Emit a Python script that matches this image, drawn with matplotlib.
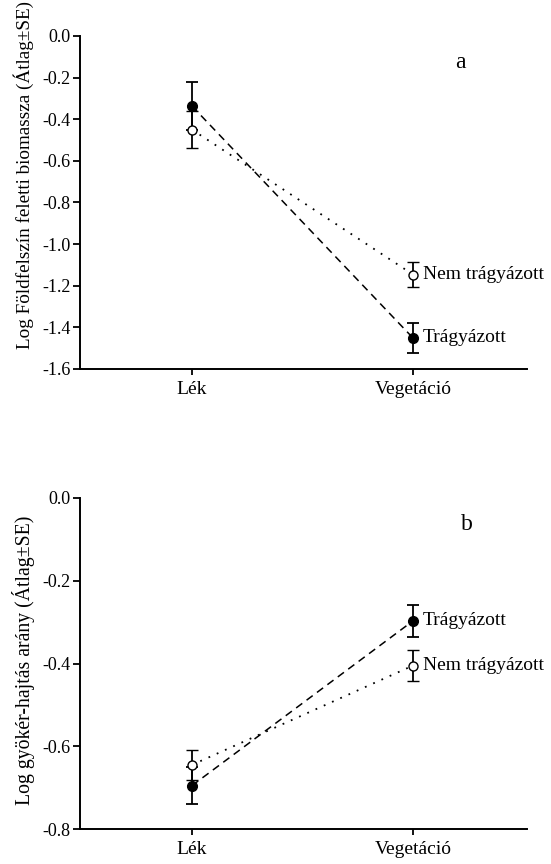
import matplotlib
matplotlib.use("Agg")
import matplotlib.pyplot as plt

plt.rcParams['font.family'] = ['Liberation Serif', 'DejaVu Serif']

sites = ['Lék', 'Vegetáció']
groups = ['Trágyázott', 'Nem trágyázott']

# shoot biomass (log), mean and SE
biomass_fert = [-0.337, -1.451]
biomass_fert_se = [0.115, 0.074]
biomass_nofert = [-0.450, -1.146]
biomass_nofert_se = [0.090, 0.062]

# root:shoot ratio (log), mean and SE
ratio_fert = [-0.695, -0.297]
ratio_fert_se = [0.044, 0.039]
ratio_nofert = [-0.645, -0.405]
ratio_nofert_se = [0.037, 0.038]

W, H = 551, 864
fig = plt.figure(figsize=(W / 100, H / 100), dpi=100)
ax1 = fig.add_axes([80 / W, 1 - 369 / H, 447 / W, 333 / H])
ax2 = fig.add_axes([80 / W, 1 - 829 / H, 447 / W, 331 / H])

x = [0, 1]


def draw_panel(ax, fert, fert_se, nofert, nofert_se, letter, letter_x,
               ylim, yticks):
    ax.errorbar(x, fert, yerr=fert_se, color='black', ls=(0, (5, 3.5)),
                lw=1.1, marker='o', ms=7, mfc='black', mec='black',
                capsize=4.5, elinewidth=1.3, capthick=1.3, zorder=3)
    ax.errorbar(x, nofert, yerr=nofert_se, color='black', ls=(0, (1, 4)),
                lw=1.3, marker='o', ms=6.5, mfc='white', mec='black',
                mew=1.0, capsize=4.5, elinewidth=1.3, capthick=1.3, zorder=4)
    ax.annotate(groups[0], (x[1], fert[1]), xytext=(7, 0),
                textcoords='offset points', va='center', fontsize=14)
    ax.annotate(groups[1], (x[1], nofert[1]), xytext=(7, 0),
                textcoords='offset points', va='center', fontsize=14)
    ax.set_xlim(-0.507, 1.516)
    ax.set_ylim(*ylim)
    ax.set_yticks(yticks)
    ax.set_yticklabels([f'{t:.1f}' for t in yticks])
    ax.set_xticks(x)
    ax.set_xticklabels(sites)
    ax.spines['top'].set_visible(False)
    ax.spines['right'].set_visible(False)
    ax.spines['left'].set_linewidth(1.4)
    ax.spines['bottom'].set_linewidth(1.4)
    ax.tick_params(axis='y', direction='out', length=5, width=1.3,
                   labelsize=13, pad=2)
    ax.tick_params(axis='x', direction='out', length=4, width=1.3,
                   labelsize=14, pad=5)
    ax.text(letter_x, 0.92, letter, transform=ax.transAxes, fontsize=17,
            ha='center', va='center')


draw_panel(ax1, biomass_fert, biomass_fert_se, biomass_nofert,
           biomass_nofert_se, 'a', 0.85,
           (-1.6, 0.0), [0.0, -0.2, -0.4, -0.6, -0.8, -1.0, -1.2, -1.4, -1.6])
draw_panel(ax2, ratio_fert, ratio_fert_se, ratio_nofert, ratio_nofert_se,
           'b', 0.865, (-0.8, 0.0), [0.0, -0.2, -0.4, -0.6, -0.8])

fig.text(24 / W, 1 - 175 / H, 'Log Földfelszín feletti biomassza (Átlag±SE)',
         rotation=90, ha='center', va='center', fontsize=13.8)
fig.text(24 / W, 1 - 660 / H, 'Log gyökér-hajtás arány (Átlag±SE)',
         rotation=90, ha='center', va='center', fontsize=14.2)

fig.savefig('out.png', dpi=100)
